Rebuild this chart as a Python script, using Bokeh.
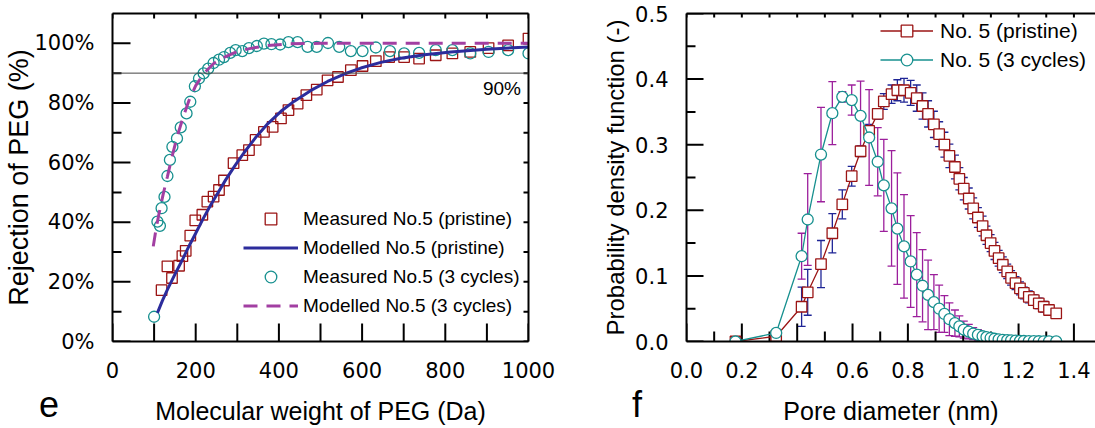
from math import pi
from bokeh.plotting import figure
from bokeh.layouts import row
from bokeh.models import (Range1d, LinearAxis, SingleIntervalTicker, FixedTicker, PrintfTickFormatter,
                          Span, Label, Legend, LegendItem, Whisker, TeeHead, ColumnDataSource, Div)
from bokeh.embed import file_html
from bokeh.resources import INLINE

FONT = "Liberation Sans"
TICK_FONT = "DejaVu Sans"

# ---------------- panel e data ----------------
pristine_mw = [118, 132, 143, 160, 168, 176, 187, 199, 216, 228, 243, 256, 268, 291, 312, 328,
               344, 364, 385, 405, 423, 445, 466, 491, 517, 542, 573, 601, 633, 665, 701, 737,
               777, 817, 860, 904, 951, 1000]
pristine_rej = [17.2, 25.2, 21.3, 25.4, 28.6, 30.4, 35.5, 40.6, 42.5, 46.9, 48.6, 50.8, 54.0, 59.8,
                62.5, 64.2, 67.6, 70.3, 72.0, 74.8, 77.6, 79.8, 82.6, 84.5, 87.6, 88.7, 91.0, 92.4,
                94.0, 95.4, 95.4, 94.9, 96.0, 96.6, 97.1, 98.4, 99.3, 101.6]

cycles_mw = [96, 100, 108, 114, 118, 125, 132, 138, 144, 155, 164, 178, 187, 198, 208, 219, 230,
             243, 256, 268, 283, 296, 312, 328, 347, 364, 382, 403, 423, 445, 469, 491, 518, 545,
             573, 601, 633, 667, 701, 737, 777, 817, 860, 904, 951, 1000]
cycles_rej = [-5.5, 8.3, 40.2, 38.8, 44.7, 48.5, 55.5, 60.9, 65.3, 68.1, 71.8, 76.5, 80.4, 85.6,
              88.2, 89.9, 91.5, 93.4, 94.5, 95.4, 96.8, 97.7, 97.4, 98.4, 99.1, 99.9, 99.7, 99.6,
              100.4, 100.4, 98.8, 98.8, 100.1, 98.8, 97.4, 97.4, 98.6, 97.4, 96.6, 96.8, 97.7,
              97.7, 96.6, 97.1, 97.7, 96.6]

model_pristine_mw = [108, 120, 132, 150, 168, 185, 200, 218, 236, 254, 272, 294, 316, 344, 373,
                     405, 437, 477, 517, 557, 597, 645, 693, 750, 813, 900, 1000]
model_pristine_rej = [9.6, 13.7, 17.4, 22.5, 27.4, 32.3, 36.3, 41.2, 45.8, 50.0, 54.2, 58.9, 63.3,
                      68.4, 73.0, 77.2, 80.6, 84.2, 87.2, 89.7, 91.7, 93.6, 95.0, 96.2, 97.1, 98.0,
                      98.8]

model_cycles_mw = [98, 105, 112, 122, 132, 144, 156, 170, 184, 200, 220, 244, 268, 300, 332, 370,
                   420, 500, 600, 800, 1000]
model_cycles_rej = [31.9, 38.0, 43.0, 49.5, 55.3, 62.5, 69.0, 75.3, 80.9, 85.8, 90.0, 93.3, 95.3,
                    97.3, 98.3, 99.2, 99.8, 100.0, 100.0, 100.0, 100.0]

# tick positions (panel e)
e_x_ticks = [0, 100, 200, 300, 400, 500, 600, 700, 800, 900, 1000]
e_y_major = [0, 20, 40, 60, 80, 100]
e_y_minor = [10, 30, 50, 70, 90]

# ---------------- panel f data ----------------
pore_d = [0.177, 0.324, 0.416, 0.438, 0.486, 0.527, 0.563, 0.597, 0.629, 0.660, 0.691, 0.713,
          0.741, 0.762, 0.786, 0.810, 0.832, 0.853, 0.873, 0.894, 0.913, 0.932, 0.950, 0.970,
          0.986, 1.002, 1.020, 1.036, 1.053, 1.070, 1.084, 1.099, 1.113, 1.128, 1.143, 1.159,
          1.173, 1.189, 1.205, 1.219, 1.237, 1.255, 1.273, 1.291, 1.310, 1.336]
pdf_pristine = [0.0, 0.008, 0.053, 0.075, 0.118, 0.165, 0.209, 0.252, 0.290, 0.321, 0.347, 0.366,
                0.377, 0.383, 0.383, 0.379, 0.371, 0.359, 0.347, 0.331, 0.316, 0.300, 0.283, 0.266,
                0.248, 0.233, 0.218, 0.203, 0.189, 0.176, 0.162, 0.150, 0.138, 0.127, 0.117, 0.107,
                0.097, 0.089, 0.081, 0.074, 0.068, 0.063, 0.058, 0.053, 0.048, 0.043]
err_pristine = [0.002, 0.005, 0.030, 0.035, 0.036, 0.030, 0.022, 0.015, 0.008, 0.010, 0.008, 0.012,
                0.014, 0.016, 0.018, 0.019, 0.020, 0.020, 0.020, 0.020, 0.019, 0.019, 0.018, 0.018,
                0.017, 0.017, 0.016, 0.016, 0.015, 0.015, 0.014, 0.013, 0.013, 0.012, 0.012, 0.011,
                0.011, 0.010, 0.010, 0.009, 0.009, 0.008, 0.008, 0.008, 0.007, 0.007]
pdf_cycles = [0.0, 0.013, 0.130, 0.186, 0.285, 0.348, 0.373, 0.368, 0.344, 0.311, 0.274, 0.238,
              0.203, 0.172, 0.145, 0.122, 0.102, 0.085, 0.071, 0.060, 0.050, 0.042, 0.034, 0.028,
              0.023, 0.018, 0.015, 0.012, 0.010, 0.008, 0.0066, 0.0053, 0.0042, 0.0033, 0.0026,
              0.0020, 0.0016, 0.0012, 0.0010, 0.0008, 0.0006, 0.0005, 0.0004, 0.0003, 0.0002,
              0.0001]
err_cycles = [0.003, 0.004, 0.035, 0.070, 0.072, 0.048, 0.008, 0.023, 0.053, 0.073, 0.052, 0.070,
              0.088, 0.085, 0.079, 0.070, 0.064, 0.055, 0.053, 0.042, 0.036, 0.028, 0.025, 0.020,
              0.016, 0.013, 0.011, 0.009, 0.008, 0.007, 0.006, 0.005, 0.004, 0.0035, 0.003,
              0.0025, 0.002, 0.0018, 0.0015, 0.0012, 0.001, 0.0008, 0.0007, 0.0006, 0.0005,
              0.0004]

# tick positions (panel f)
f_x_major = [0.0, 0.2, 0.4, 0.6, 0.8, 1.0, 1.2, 1.4]
f_x_minor = [0.1, 0.3, 0.5, 0.7, 0.9, 1.1, 1.3]
f_y_major = [0.0, 0.1, 0.2, 0.3, 0.4, 0.5]
f_y_minor = [0.05, 0.15, 0.25, 0.35, 0.45]

RED = "#9b1515"
TEAL = "#17908f"
NAVY = "#2c2c9c"
PURPLE = "#a23fa2"
PURPLE_ERR = "#9c1f9c"
NAVY_ERR = "#1f2596"


def style_axis(ax, title_size="25px"):
    ax.axis_line_width = 2
    ax.axis_line_color = "black"
    ax.major_tick_in = 0
    ax.major_tick_out = 0
    ax.minor_tick_in = 0
    ax.minor_tick_out = 0
    ax.major_tick_line_color = None
    ax.minor_tick_line_color = None
    ax.major_label_text_font = TICK_FONT
    ax.major_label_text_color = "black"
    ax.major_label_text_font_size = "21px"
    ax.axis_label_text_font = FONT
    ax.axis_label_text_font_size = title_size
    ax.axis_label_text_font_style = "normal"
    ax.axis_label_text_color = "black"


def border_axis():
    ax = LinearAxis(ticker=FixedTicker(ticks=[]))
    style_axis(ax)
    ax.major_label_standoff = 0
    return ax


def ticks(p, xs, ys, length, vertical):
    # a dash centred on the frame edge: the half inside the frame forms the inward tick
    p.scatter(x=xs, y=ys, marker="dash", size=2 * length, angle=(pi / 2 if vertical else 0),
              line_color="black", line_width=2)


# ================= Panel e =================
p1 = figure(width=560, height=427, x_range=Range1d(0, 1000), y_range=Range1d(0, 110),
            output_backend="svg", toolbar_location=None,
            min_border_left=112, min_border_right=32, min_border_top=13, min_border_bottom=86,
            outline_line_color=None, background_fill_color=None, border_fill_color=None)
p1.grid.visible = False

xa = p1.xaxis[0]
xa.ticker = SingleIntervalTicker(interval=200, num_minor_ticks=2)
xa.axis_label = "Molecular weight of PEG (Da)"
style_axis(xa)
xa.major_label_standoff = 20
xa.axis_label_standoff = 16

ya = p1.yaxis[0]
ya.ticker = SingleIntervalTicker(interval=20, num_minor_ticks=2)
ya.formatter = PrintfTickFormatter(format="%d%%")
ya.axis_label = "Rejection of PEG (%)"
style_axis(ya, "27px")
ya.major_label_standoff = 18
ya.axis_label_standoff = -3

p1.add_layout(border_axis(), "above")
p1.add_layout(border_axis(), "right")

ticks(p1, e_x_ticks, [0] * len(e_x_ticks), 18, True)
ticks(p1, [0] * len(e_y_major), e_y_major, 18, False)
ticks(p1, [0] * len(e_y_minor), e_y_minor, 9, False)
ticks(p1, e_x_ticks, [110] * len(e_x_ticks), 5, True)
ticks(p1, [1000] * 11, e_y_major + e_y_minor, 5, False)

p1.add_layout(Span(location=90, dimension="width", line_color="#444444", line_width=1))
p1.add_layout(Label(x=982, y=84.7, text="90%", text_align="right", text_baseline="middle",
                    text_font=FONT, text_font_size="19px", text_color="black"))

r_sq = p1.scatter(pristine_mw, pristine_rej, marker="square", size=10.5, fill_color=None,
                  line_color=RED, line_width=1.3)
r_ci = p1.scatter(cycles_mw, cycles_rej, marker="circle", size=11, fill_color=None,
                  line_color=TEAL, line_width=1.3)
r_mp = p1.line(model_pristine_mw, model_pristine_rej, line_color=NAVY, line_width=3)
r_mc = p1.line(model_cycles_mw, model_cycles_rej, line_color=PURPLE, line_width=3,
               line_dash="14 9")

leg1 = Legend(items=[LegendItem(label="Measured No.5 (pristine)", renderers=[r_sq]),
                     LegendItem(label="Modelled No.5 (pristine)", renderers=[r_mp]),
                     LegendItem(label="Measured No.5 (3 cycles)", renderers=[r_ci]),
                     LegendItem(label="Modelled No.5 (3 cycles)", renderers=[r_mc])],
              location=(131, 21), padding=0, margin=0, spacing=0,
              glyph_width=55, glyph_height=29, label_height=29, label_standoff=5,
              label_text_font=FONT, label_text_font_size="19px", label_text_color="black",
              border_line_color=None, background_fill_alpha=0)
p1.add_layout(leg1)

# ================= Panel f =================
p2 = figure(width=535, height=427, x_range=Range1d(0, 1.478), y_range=Range1d(0, 0.5),
            output_backend="svg", toolbar_location=None,
            min_border_left=126, min_border_right=0, min_border_top=13, min_border_bottom=86,
            outline_line_color=None, background_fill_color=None, border_fill_color=None)
p2.grid.visible = False

xb = p2.xaxis[0]
xb.ticker = SingleIntervalTicker(interval=0.2, num_minor_ticks=2)
xb.formatter = PrintfTickFormatter(format="%.1f")
xb.axis_label = "Pore diameter (nm)"
style_axis(xb)
xb.major_label_standoff = 20
xb.axis_label_standoff = 16

yb = p2.yaxis[0]
yb.ticker = SingleIntervalTicker(interval=0.1, num_minor_ticks=2)
yb.formatter = PrintfTickFormatter(format="%.1f")
yb.axis_label = "Probability density function (-)"
style_axis(yb, "24px")
yb.major_label_standoff = 18
yb.axis_label_standoff = 3

p2.add_layout(border_axis(), "above")

ticks(p2, f_x_major, [0] * len(f_x_major), 18, True)
ticks(p2, f_x_minor, [0] * len(f_x_minor), 10, True)
ticks(p2, [0] * len(f_y_major), f_y_major, 17, False)
ticks(p2, [0] * len(f_y_minor), f_y_minor, 9, False)
ticks(p2, f_x_major + f_x_minor, [0.5] * 15, 4, True)

src_p = ColumnDataSource(dict(d=pore_d, y=pdf_pristine,
                              lo=[a - b for a, b in zip(pdf_pristine, err_pristine)],
                              hi=[a + b for a, b in zip(pdf_pristine, err_pristine)]))
src_c = ColumnDataSource(dict(d=pore_d, y=pdf_cycles,
                              lo=[a - b for a, b in zip(pdf_cycles, err_cycles)],
                              hi=[a + b for a, b in zip(pdf_cycles, err_cycles)]))

w_p = Whisker(source=src_p, base="d", lower="lo", upper="hi", dimension="height",
              line_color=NAVY_ERR, line_width=1.3, level="underlay",
              upper_head=TeeHead(size=8, line_color=NAVY_ERR, line_width=1.3),
              lower_head=TeeHead(size=8, line_color=NAVY_ERR, line_width=1.3))
w_c = Whisker(source=src_c, base="d", lower="lo", upper="hi", dimension="height",
              line_color=PURPLE_ERR, line_width=1.3, level="underlay",
              upper_head=TeeHead(size=8, line_color=PURPLE_ERR, line_width=1.3),
              lower_head=TeeHead(size=8, line_color=PURPLE_ERR, line_width=1.3))
p2.add_layout(w_p)
p2.add_layout(w_c)

l_p = p2.line("d", "y", source=src_p, line_color=RED, line_width=1.3)
s_p = p2.scatter("d", "y", source=src_p, marker="square", size=10.5, fill_color="white",
                 line_color=RED, line_width=1.3)
l_c = p2.line("d", "y", source=src_c, line_color=TEAL, line_width=1.3)
s_c = p2.scatter("d", "y", source=src_c, marker="circle", size=11, fill_color="white",
                 line_color=TEAL, line_width=1.3)

leg2 = Legend(items=[LegendItem(label="No. 5 (pristine)", renderers=[l_p, s_p]),
                     LegendItem(label="No. 5 (3 cycles)", renderers=[l_c, s_c])],
              location=(194, 267), padding=0, margin=0, spacing=0,
              glyph_width=53, glyph_height=29, label_height=29, label_standoff=7,
              label_text_font=FONT, label_text_font_size="21px", label_text_color="black",
              border_line_color=None, background_fill_alpha=0)
p2.add_layout(leg2)

# panel letters
letter_style = {"position": "absolute", "font-family": FONT, "font-size": "36px",
                "line-height": "36px", "color": "black", "margin": "0", "padding": "0"}
div_e = Div(text="e", margin=0, styles=dict(letter_style, left="39px", top="387px"))
div_f = Div(text="f", margin=0, styles=dict(letter_style, left="632px", top="387px"))

layout = row(p1, p2, div_e, div_f)
open("out.html", "w").write(file_html(layout, INLINE))
